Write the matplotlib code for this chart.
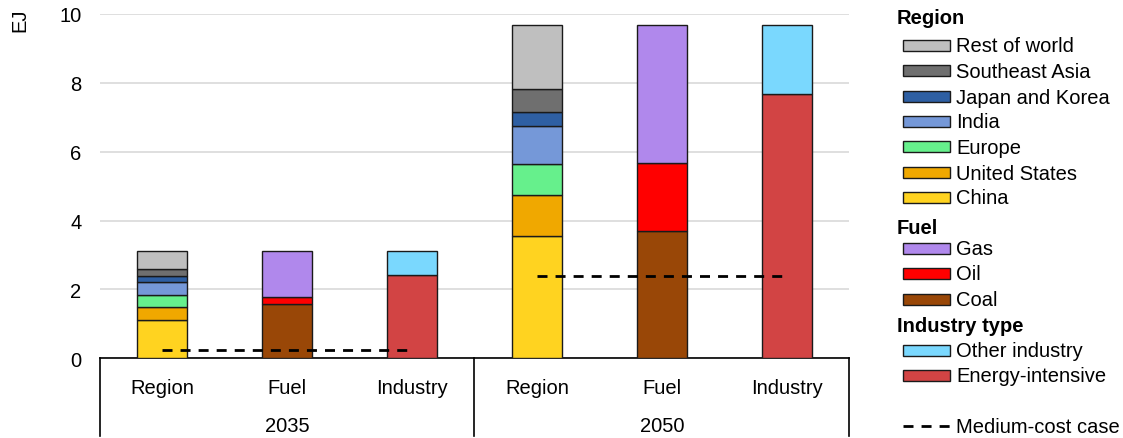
import matplotlib
matplotlib.use("Agg")
import matplotlib.pyplot as plt
from matplotlib.patches import Rectangle
from matplotlib.lines import Line2D
import matplotlib.transforms as mtransforms

plt.rcParams['font.family'] = ['Liberation Sans', 'DejaVu Sans']

years = ["2035", "2050"]
groups = ["Region", "Fuel", "Industry"]

region_names = ["China", "United States", "Europe", "India", "Japan and Korea", "Southeast Asia", "Rest of world"]
region_colors = ["#ffd320", "#f0a800", "#66f08c", "#7598d8", "#2e5fa3", "#6f6f6f", "#bfbfbf"]
region_2035 = [1.12, 0.38, 0.33, 0.39, 0.18, 0.20, 0.51]
region_2050 = [3.54, 1.20, 0.89, 1.11, 0.40, 0.68, 1.86]

fuel_names = ["Coal", "Oil", "Gas"]
fuel_colors = ["#994707", "#ff0000", "#b088ec"]
fuel_2035 = [1.57, 0.21, 1.33]
fuel_2050 = [3.69, 1.98, 4.01]

industry_names = ["Energy-intensive", "Other industry"]
industry_colors = ["#d24444", "#7ad8fe"]
industry_2035 = [2.41, 0.70]
industry_2050 = [7.68, 2.00]

medium_cost = [0.24, 2.40]

FS = 14.5
W, H = 1123, 439
fig = plt.figure(figsize=(W / 100, H / 100), dpi=100)
ax = fig.add_axes([99.5 / W, (H - 359.3) / H, 750 / W, 344.3 / H])

bw = 0.4
edge = "#1a1a1a"

def stack(pos, vals, colors):
    bottom = 0
    for v, c in zip(vals, colors):
        ax.bar(pos, v, bw, bottom=bottom, color=c, edgecolor=edge, linewidth=1, zorder=3)
        bottom += v

for yi, (rv, fv, iv) in enumerate([(region_2035, fuel_2035, industry_2035),
                                   (region_2050, fuel_2050, industry_2050)]):
    base = yi * 3
    stack(base + 0, rv, region_colors)
    stack(base + 1, fv, fuel_colors)
    stack(base + 2, iv, industry_colors)
    ax.plot([base, base + 2], [medium_cost[yi]] * 2, color="black", lw=2,
            dashes=(3.6, 2.9), zorder=4)

ax.set_xlim(-0.5, 5.5)
ax.set_ylim(0, 10)
ax.set_yticks([0, 2, 4, 6, 8, 10])
ax.yaxis.grid(True, color="#d9d9d9", lw=1.2, zorder=0)
ax.set_axisbelow(True)
for s in ["top", "right", "left"]:
    ax.spines[s].set_visible(False)
ax.spines["bottom"].set_color("black")
ax.spines["bottom"].set_linewidth(1.2)
ax.tick_params(axis="y", length=0, pad=13, labelsize=FS)
ax.set_xticks(range(6))
ax.set_xticklabels(groups * 2)
ax.tick_params(axis="x", length=0, pad=14, labelsize=FS)

trans = mtransforms.blended_transform_factory(ax.transData, ax.transAxes)
depth = 78 / 344.3
for xs in [-0.5, 2.5, 5.5]:
    ax.add_line(Line2D([xs, xs], [0, -depth], transform=trans, color="black",
                       lw=1.2, clip_on=False))
for yi, yr in enumerate(years):
    ax.text(yi * 3 + 1, -67 / 344.3, yr, transform=trans, ha="center", va="center",
            fontsize=FS)

fig.text(20 / W, 1 - 20 / H, "EJ", rotation=90, ha="center", va="center", fontsize=FS)

def fx(x):
    return x / W

def fy(y):
    return 1 - y / H

def header(y, txt):
    fig.text(fx(897), fy(y + 1), txt, fontsize=FS, fontweight="bold", ha="left", va="center")

def item(y, txt, color):
    fig.add_artist(Rectangle((fx(903), fy(y + 5.5)), 47 / W, 11 / H, transform=fig.transFigure,
                             facecolor=color, edgecolor=edge, lw=1))
    fig.text(fx(956), fy(y + 1), txt, fontsize=FS, ha="left", va="center")

header(17, "Region")
ys = [46, 71, 97, 122, 147, 173, 198]
for y, n, c in zip(ys, region_names[::-1], region_colors[::-1]):
    item(y, n, c)
header(227, "Fuel")
for y, n, c in zip([249, 274, 300], fuel_names[::-1], fuel_colors[::-1]):
    item(y, n, c)
header(326, "Industry type")
for y, n, c in zip([351, 376], industry_names[::-1], industry_colors[::-1]):
    item(y, n, c)
fig.add_artist(Line2D([fx(903), fx(950)], [fy(427), fy(427)], transform=fig.transFigure,
                      color="black", lw=2, dashes=(3.6, 2.9)))
fig.text(fx(956), fy(428), "Medium-cost case", fontsize=FS, ha="left", va="center")

fig.savefig("out.png", dpi=100)
